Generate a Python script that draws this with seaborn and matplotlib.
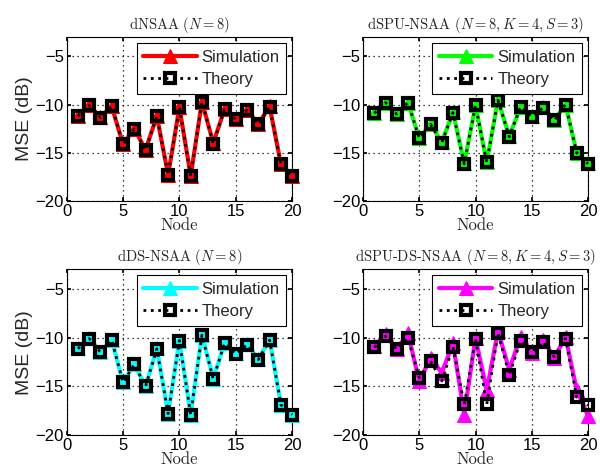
import numpy as np
import matplotlib
matplotlib.use('Agg')
import matplotlib.pyplot as plt
import seaborn as sns

nodes = list(range(1, 21))

# dNSAA (N=8)
sim_dnsaa = [-11.2, -10.1, -11.3, -10.2, -14.1, -12.5, -14.7, -11.2, -17.3, -10.3,
             -17.4, -9.7, -14.0, -10.5, -11.5, -10.6, -12.0, -10.2, -16.2, -17.4]
th_dnsaa = [-11.2, -10.1, -11.35, -10.2, -14.1, -12.55, -14.75, -11.2, -17.3, -10.3,
            -17.4, -9.7, -14.05, -10.5, -11.5, -10.6, -12.05, -10.25, -16.2, -17.4]

# dSPU-NSAA (N=8, K=4, S=3)
sim_dspu = [-10.9, -9.8, -11.0, -9.8, -13.5, -12.0, -13.9, -10.8, -16.1, -10.1,
            -16.0, -9.5, -13.3, -10.3, -11.2, -10.3, -11.6, -10.0, -15.0, -16.1]
th_dspu = [-10.9, -9.8, -11.0, -9.8, -13.5, -12.05, -13.95, -10.85, -16.15, -10.05,
           -16.0, -9.55, -13.35, -10.25, -11.25, -10.35, -11.65, -10.0, -15.0, -16.15]

# dDS-NSAA (N=8)
sim_dds = [-11.1, -10.0, -11.5, -10.2, -14.6, -12.7, -15.0, -11.1, -17.8, -10.3,
           -17.9, -9.7, -14.2, -10.6, -11.6, -10.7, -12.2, -10.2, -16.9, -17.9]
th_dds = [-11.15, -10.1, -11.5, -10.25, -14.6, -12.75, -15.0, -11.15, -17.8, -10.3,
          -17.9, -9.75, -14.25, -10.6, -11.65, -10.75, -12.25, -10.25, -16.9, -17.9]

# dSPU-DS-NSAA (N=8, K=4, S=3)
sim_dspuds = [-10.9, -9.65, -11.2, -9.55, -14.5, -12.1, -13.6, -10.6, -17.9, -10.05,
              -15.4, -9.3, -13.3, -9.9, -11.6, -10.2, -12.1, -9.9, -15.4, -18.0]
th_dspuds = [-11.0, -9.85, -11.2, -10.05, -14.1, -12.4, -14.45, -10.95, -16.85, -10.15,
             -16.85, -9.5, -13.85, -10.35, -11.45, -10.45, -11.95, -10.1, -16.1, -16.95]

titles = [r'dNSAA ($N=8$)', r'dSPU-NSAA ($N=8, K=4, S=3$)',
          r'dDS-NSAA ($N=8$)', r'dSPU-DS-NSAA ($N=8, K=4, S=3$)']
colors = ['#ff0000', '#00ff00', '#00ffff', '#ff00ff']
sims = [sim_dnsaa, sim_dspu, sim_dds, sim_dspuds]
ths = [th_dnsaa, th_dspu, th_dds, th_dspuds]

sns.set_theme(style='white')
plt.rcParams['font.family'] = ['Liberation Sans', 'DejaVu Sans']
plt.rcParams['mathtext.fontset'] = 'cm'
plt.rcParams['axes.unicode_minus'] = True

fig = plt.figure(figsize=(6, 4.75), dpi=100)
# axes positions [left, bottom, width, height]
positions = [[0.111, 0.577, 0.376, 0.345], [0.605, 0.577, 0.375, 0.345],
             [0.111, 0.084, 0.376, 0.349], [0.605, 0.084, 0.375, 0.349]]

serif = {'family': ['cmr10', 'DejaVu Serif']}

for i in range(4):
    ax = fig.add_axes(positions[i])
    sns.lineplot(x=nodes, y=sims[i], ax=ax, color=colors[i], linewidth=3,
                 marker='^', markersize=10, markeredgecolor=colors[i],
                 label='Simulation', sort=False, clip_on=False, zorder=3)
    sns.lineplot(x=nodes, y=ths[i], ax=ax, color='black', linewidth=2,
                 linestyle=':', marker='s', markersize=7, markerfacecolor='none',
                 markeredgecolor='black', markeredgewidth=3,
                 label='Theory', sort=False, clip_on=False, zorder=4)
    ax.set_xlim(0, 20)
    ax.set_ylim(-20, -3)
    ax.set_xticks([0, 5, 10, 15, 20])
    ax.set_yticks([-20, -15, -10, -5])
    ax.grid(True, linestyle=(0, (1, 3)), color='black', linewidth=0.9)
    ax.tick_params(direction='in', length=3, labelsize=12, colors='black',
                   top=True, right=True, bottom=True, left=True, pad=2)
    for s in ax.spines.values():
        s.set_color('black')
        s.set_linewidth(0.8)
    ax.set_title(titles[i], fontsize=10.5, pad=6, **serif)
    if i % 2 == 0:
        ax.set_ylabel('MSE (dB)', fontsize=14, labelpad=2)
    else:
        ax.set_ylabel('')
    ax.set_xlabel('Node', fontsize=12, labelpad=-1, **serif)
    leg = ax.legend(loc='upper right', fontsize=12, frameon=True, fancybox=False,
                    edgecolor='black', framealpha=1, handlelength=3.2,
                    borderaxespad=0.35, borderpad=0.4, labelspacing=0.45,
                    handletextpad=0.3)
    leg.get_frame().set_linewidth(0.8)
    leg.set_zorder(10)

fig.savefig('out.png', dpi=100)
